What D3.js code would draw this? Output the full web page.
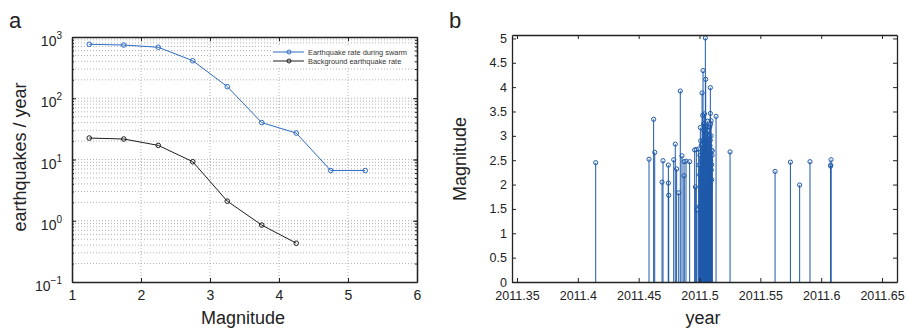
<!DOCTYPE html>
<html>
<head>
<meta charset="utf-8">
<script src="https://d3js.org/d3.v7.min.js"></script>
<style>
    body { margin: 0; background: #fff; }
    svg { font-family: "Liberation Sans", Arial, sans-serif; }
    .grid line { stroke: #a8a8a8; stroke-width: 0.9; stroke-dasharray: 1,2; }
    .axis path, .axis line { stroke: #222; }
    .axis text { fill: #222; }
</style>
</head>
<body>
<script>
// panel a: rate vs magnitude
var magBins = [1.25, 1.75, 2.25, 2.75, 3.25, 3.75, 4.25, 4.75, 5.25];
var swarmRate = [760, 740, 680, 410, 155, 40, 27, 6.6, 6.6];
var backgroundRate = [22.4, 21.6, 17, 9.2, 2.09, 0.85, 0.43];
var legendLabels = ["Earthquake rate during swarm", "Background earthquake rate"];
var decades = [0.1, 1, 10, 100, 1000];
var decadeExp = ["\u22121", "0", "1", "2", "3"];

// panel b: events (year, magnitude)
var eventYear = [
    2011.4147, 2011.4585, 2011.4623, 2011.4632, 2011.4692, 2011.4700, 2011.4744, 2011.4744,
    2011.4747, 2011.4788, 2011.4801, 2011.4812, 2011.4829, 2011.4842, 2011.4856, 2011.4873,
    2011.4873, 2011.4889, 2011.4919, 2011.4960, 2011.4966, 2011.4974, 2011.4979, 2011.4993,
    2011.5007, 2011.5015, 2011.5021, 2011.5026, 2011.5029, 2011.5034, 2011.5040, 2011.5048,
    2011.5051, 2011.5056, 2011.5062, 2011.5070, 2011.5075, 2011.5084, 2011.5089, 2011.5089,
    2011.5092, 2011.5095, 2011.5089, 2011.5097, 2011.5100, 2011.5105, 2011.5136, 2011.5251,
    2011.5621, 2011.5747, 2011.5823, 2011.5908, 2011.6081, 2011.6078, 2011.6078,
    2011.4996, 2011.4999, 2011.5001, 2011.5004, 2011.5010, 2011.5012, 2011.5018, 2011.5021,
    2011.5023, 2011.5026, 2011.5029, 2011.5032, 2011.5034, 2011.5037, 2011.5040, 2011.5042,
    2011.5045, 2011.5048, 2011.5053, 2011.5053, 2011.5059, 2011.5062, 2011.5064, 2011.5067,
    2011.5070, 2011.5073, 2011.5075, 2011.5078, 2011.5078, 2011.5081, 2011.5084, 2011.5086,
    2011.5092, 2011.5095, 2011.5097, 2011.5100, 2011.5103, 2011.5016, 2011.5050, 2011.5058
];
var eventMag = [
    2.45, 2.52, 3.34, 2.66, 2.05, 2.49, 2.40, 2.03,
    1.78, 2.51, 2.83, 2.32, 1.83, 3.92, 2.59, 2.18,
    2.47, 2.48, 2.47, 2.71, 1.95, 2.72, 1.48, 2.73,
    3.17, 2.81, 3.88, 3.42, 4.34, 3.25, 3.45, 5.01,
    4.16, 3.05, 3.18, 2.81, 2.64, 3.18, 3.99, 3.46,
    3.24, 3.31, 2.91, 2.71, 2.41, 2.69, 3.40, 2.67,
    2.27, 2.46, 1.99, 2.47, 2.51, 2.40, 2.38,
    2.40, 1.55, 2.20, 2.60, 2.90, 2.10, 2.50, 2.20,
    2.70, 2.60, 2.30, 2.90, 2.00, 3.10, 2.80, 2.60,
    3.20, 2.40, 2.80, 3.20, 2.50, 2.10, 2.90, 3.30,
    3.10, 2.20, 2.40, 3.00, 2.70, 2.60, 2.00, 2.80,
    2.50, 3.00, 2.30, 2.10, 2.60, 2.30, 2.70, 2.90
];
var yearTicks = [2011.35, 2011.4, 2011.45, 2011.5, 2011.55, 2011.6, 2011.65];
var magTicks = d3.range(0, 5.01, 0.5);

var width = 907, height = 328;
var svg = d3.select("body").append("svg")
    .attr("width", width)
    .attr("height", height);

// ---------- panel a ----------
var xA = d3.scaleLinear().domain([1, 6]).range([72, 417]);
var yA = d3.scaleLog().domain([0.1, 1000]).range([282, 37]);

var minorVals = [];
decades.slice(0, 4).forEach(function(d) {
    for (var k = 1; k <= 9; k++) minorVals.push(d * k);
});
minorVals.push(1000);

var gridA = svg.append("g").attr("class", "grid");
gridA.selectAll("line.h")
    .data(minorVals.filter(function(v) { return v > 0.1 && v < 1000; }))
    .enter().append("line")
    .attr("x1", xA(1)).attr("x2", xA(6))
    .attr("y1", function(d) { return yA(d); })
    .attr("y2", function(d) { return yA(d); });
gridA.selectAll("line.v")
    .data([2, 3, 4, 5])
    .enter().append("line")
    .attr("x1", function(d) { return xA(d); })
    .attr("x2", function(d) { return xA(d); })
    .attr("y1", yA(0.1)).attr("y2", yA(1000));

// frame + ticks
svg.append("g").attr("class", "axis")
    .attr("transform", "translate(0," + yA(0.1) + ")")
    .style("font-size", "14px")
    .call(d3.axisBottom(xA).ticks(5).tickSize(-4).tickSizeOuter(0).tickPadding(8).tickFormat(d3.format("d")));
svg.append("g").attr("class", "axis")
    .attr("transform", "translate(0," + yA(1000) + ")")
    .call(d3.axisTop(xA).ticks(5).tickSize(-4).tickSizeOuter(0).tickFormat(""));
svg.append("g").attr("class", "axis")
    .attr("transform", "translate(" + xA(1) + ",0)")
    .call(d3.axisLeft(yA).tickValues(minorVals).tickSize(-2).tickSizeOuter(0).tickFormat(""));
svg.append("g").attr("class", "axis")
    .attr("transform", "translate(" + xA(1) + ",0)")
    .call(d3.axisLeft(yA).tickValues(decades).tickSize(-4).tickSizeOuter(0).tickFormat(""));
svg.append("g").attr("class", "axis")
    .attr("transform", "translate(" + xA(6) + ",0)")
    .call(d3.axisRight(yA).tickValues(minorVals).tickSize(-2).tickSizeOuter(0).tickFormat(""));
svg.append("g").attr("class", "axis")
    .attr("transform", "translate(" + xA(6) + ",0)")
    .call(d3.axisRight(yA).tickValues(decades).tickSize(-4).tickSizeOuter(0).tickFormat(""));

// decade labels with superscripts
var decLab = svg.append("g").selectAll("text")
    .data(decades)
    .enter().append("text")
    .attr("x", xA(1) - 10)
    .attr("y", function(d) { return yA(d) + 9; })
    .attr("text-anchor", "end")
    .style("font-size", "14px")
    .attr("fill", "#222");
decLab.append("tspan").text("10");
decLab.append("tspan")
    .attr("dy", -7)
    .style("font-size", "10px")
    .text(function(d, i) { return decadeExp[i]; });

// lines
var lineA = d3.line()
    .x(function(d) { return xA(d[0]); })
    .y(function(d) { return yA(d[1]); });
var seriesA = [
    { color: "#2c6cc2", pts: d3.zip(magBins, swarmRate) },
    { color: "#1e1e1e", pts: d3.zip(magBins.slice(0, backgroundRate.length), backgroundRate) }
];
seriesA.forEach(function(s) {
    svg.append("path")
        .attr("d", lineA(s.pts))
        .attr("fill", "none")
        .attr("stroke", s.color)
        .attr("stroke-width", 1);
    svg.append("g").selectAll("circle")
        .data(s.pts)
        .enter().append("circle")
        .attr("cx", function(d) { return xA(d[0]); })
        .attr("cy", function(d) { return yA(d[1]); })
        .attr("r", 2.3)
        .attr("fill", "none")
        .attr("stroke", s.color)
        .attr("stroke-width", 1);
});

// legend
var leg = svg.append("g");
leg.append("rect")
    .attr("x", 272).attr("y", 45).attr("width", 142).attr("height", 21)
    .attr("fill", "#fff");
seriesA.forEach(function(s, i) {
    var ly = 52 + i * 9;
    leg.append("line")
        .attr("x1", 273).attr("x2", 304).attr("y1", ly).attr("y2", ly)
        .attr("stroke", s.color).attr("stroke-width", 1);
    leg.append("circle")
        .attr("cx", 289).attr("cy", ly).attr("r", 2)
        .attr("fill", "none").attr("stroke", s.color);
    leg.append("text")
        .attr("x", 308).attr("y", ly + 3)
        .style("font-size", "7.4px")
        .attr("fill", "#333")
        .text(legendLabels[i]);
});

svg.append("text")
    .attr("transform", "translate(26,157) rotate(-90)")
    .attr("text-anchor", "middle")
    .style("font-size", "18px")
    .attr("fill", "#222")
    .text("earthquakes / year");
svg.append("text")
    .attr("x", 243).attr("y", 324)
    .attr("text-anchor", "middle")
    .style("font-size", "18px")
    .attr("fill", "#222")
    .text("Magnitude");
svg.append("text")
    .attr("x", 9).attr("y", 28)
    .style("font-size", "22px")
    .attr("fill", "#222")
    .text("a");

// ---------- panel b ----------
var xB = d3.scaleLinear().domain([2011.3459, 2011.6623]).range([512, 897]);
var yB = d3.scaleLinear().domain([0, 5.07]).range([282, 35]);

var stemColor = "#1f5aaa";
var events = d3.zip(eventYear, eventMag);
var stems = svg.append("g");
stems.selectAll("line")
    .data(events)
    .enter().append("line")
    .attr("x1", function(d) { return xB(d[0]); })
    .attr("x2", function(d) { return xB(d[0]); })
    .attr("y1", yB(0))
    .attr("y2", function(d) { return yB(d[1]); })
    .attr("stroke", stemColor)
    .attr("stroke-width", 1);
stems.selectAll("circle")
    .data(events)
    .enter().append("circle")
    .attr("cx", function(d) { return xB(d[0]); })
    .attr("cy", function(d) { return yB(d[1]); })
    .attr("r", 2.1)
    .attr("fill", "none")
    .attr("stroke", stemColor)
    .attr("stroke-width", 1);

svg.append("g").attr("class", "axis")
    .attr("transform", "translate(0," + yB(0) + ")")
    .style("font-size", "12.5px")
    .call(d3.axisBottom(xB).tickValues(yearTicks).tickSize(-4).tickSizeOuter(0).tickPadding(9).tickFormat(d3.format("")));
svg.append("g").attr("class", "axis")
    .attr("transform", "translate(0," + yB.range()[1] + ")")
    .call(d3.axisTop(xB).tickValues(yearTicks).tickSize(-4).tickSizeOuter(0).tickFormat(""));
svg.append("g").attr("class", "axis")
    .attr("transform", "translate(" + xB.range()[0] + ",0)")
    .style("font-size", "12.5px")
    .call(d3.axisLeft(yB).tickValues(magTicks).tickSize(-4).tickSizeOuter(0).tickPadding(5).tickFormat(d3.format("")));
svg.append("g").attr("class", "axis")
    .attr("transform", "translate(" + xB.range()[1] + ",0)")
    .call(d3.axisRight(yB).tickValues(magTicks).tickSize(-4).tickSizeOuter(0).tickFormat(""));

svg.append("text")
    .attr("transform", "translate(466,159) rotate(-90)")
    .attr("text-anchor", "middle")
    .style("font-size", "18px")
    .attr("fill", "#222")
    .text("Magnitude");
svg.append("text")
    .attr("x", 703).attr("y", 324)
    .attr("text-anchor", "middle")
    .style("font-size", "18px")
    .attr("fill", "#222")
    .text("year");
svg.append("text")
    .attr("x", 449).attr("y", 28)
    .style("font-size", "22px")
    .attr("fill", "#222")
    .text("b");

// thicker frames
svg.selectAll(".axis path.domain").attr("stroke-width", 1.3);
</script>
</body>
</html>
